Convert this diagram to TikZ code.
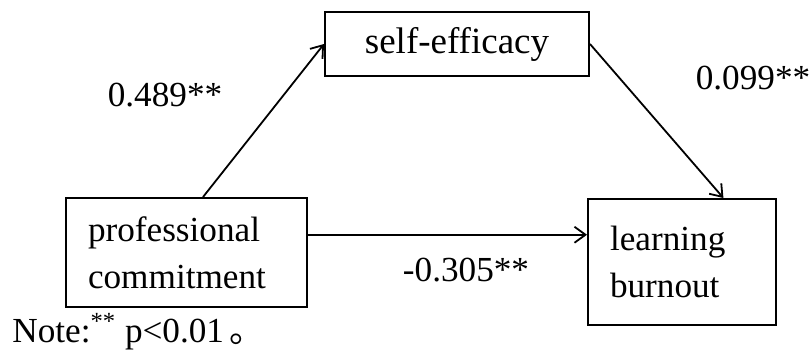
\documentclass[tikz,border=0pt]{standalone}
\usepackage{fontspec}
\setmainfont{Liberation Serif}
\newfontfamily\cjk{Noto Sans CJK SC}
\usetikzlibrary{arrows.meta,calc}

\begin{document}
\begin{tikzpicture}[x=0.5pt,y=-0.5pt,>={Straight Barb[length=5.5pt,width=8pt]},
  caja/.style={draw,line width=1pt,inner xsep=11pt,inner ysep=0pt,font=\fontsize{17.6}{23.5}\selectfont},
  coef/.style={font=\fontsize{17.6}{21}\selectfont,inner sep=0pt}]
  \useasboundingbox (0,0) rectangle (812,349);
  \node[caja,align=left,text width=98.5pt,minimum height=54.5pt] (compromiso) at (186.5,252.5) {professional\\commitment};
  \node[caja,align=center,minimum width=132pt,minimum height=32pt,font=\fontsize{18.5}{23.5}\selectfont] (eficacia) at (457,44) {self-efficacy};
  \node[caja,align=left,text width=72pt,minimum height=63pt] (burnout) at (682,262) {learning\\burnout};
  \draw[->,line width=0.9pt] ($(compromiso.north west)!0.568!(compromiso.north east)$) -- (eficacia.west);
  \draw[->,line width=0.9pt] (eficacia.east) -- ($(burnout.north west)!0.718!(burnout.north east)$);
  \coordinate (salida) at ($(compromiso.north east)!0.34!(compromiso.south east)$);
  \draw[->,line width=0.9pt] (salida) -- (salida -| burnout.west);
  \node[coef] (a) at (165,95) {0.489**};
  \node[coef] (b) at (753,78) {0.099**};
  \node[coef] (c) at (466,270) {-0.305**};
  \node[coef,anchor=base west] (nota) at (12,342) {Note:\textsuperscript{**} p<0.01\,{\cjk 。}};
\end{tikzpicture}
\end{document}
